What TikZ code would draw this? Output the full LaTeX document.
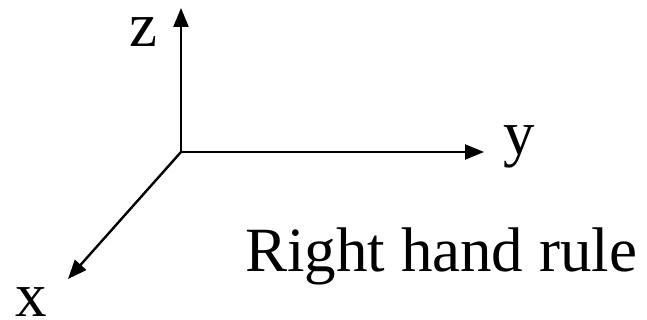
\documentclass[tikz,border=0pt]{standalone}
\usepackage{fontspec}
\setmainfont{Liberation Serif}
\usepackage{tikz}
\usetikzlibrary{arrows.meta}

\begin{document}
\begin{tikzpicture}[x=1pt, y=1pt,
    axis/.style={line width=2.4pt, -{Triangle[length=19pt, width=15pt]}},
    every node/.style={inner sep=0pt, font=\fontsize{63}{70}\selectfont}]
    \useasboundingbox (0,0) rectangle (647,320);

    % Origin and axis ends
    \coordinate (o) at (181, 168);
    \coordinate (ztip) at (181, 312);
    \coordinate (ytip) at (484, 168);
    \coordinate (xtip) at (68, 41);

    % Axes
    \draw[axis] (o) -- (ztip);
    \draw[axis] (o) -- (ytip);
    \draw[axis] (o) -- (xtip);

    % Axis labels
    \node[anchor=base] (zlab) at (143, 273) {z};
    \node[anchor=base] (ylab) at (519, 165) {y};
    \node[anchor=base] (xlab) at (31, 3) {x};

    % Caption
    \node[anchor=base west] (rule) at (245, 48) {Right hand rule};
\end{tikzpicture}
\end{document}
